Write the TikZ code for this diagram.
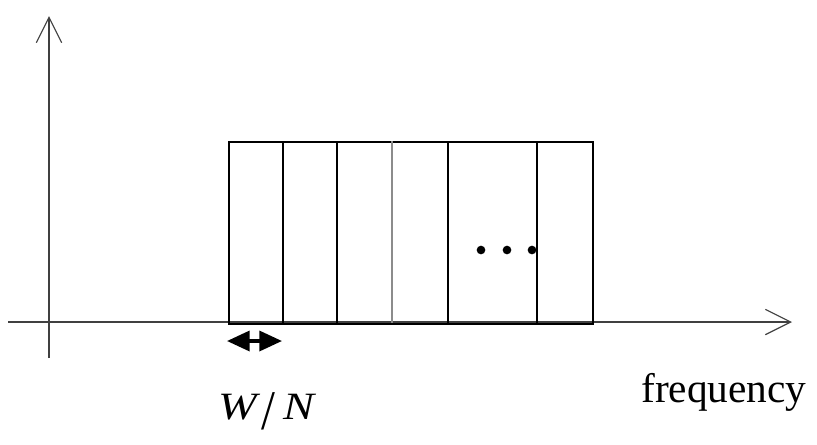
\documentclass[tikz,border=0pt]{standalone}
\usepackage{fontspec}
\setmainfont{Liberation Serif}
\usetikzlibrary{arrows.meta}
\begin{document}
\begin{tikzpicture}[x=0.75pt,y=-0.75pt,
  axis/.style={draw=black!75,line width=1.1pt,-{Straight Barb[length=19pt,width=19pt,line width=0.9pt]}},
  boxline/.style={draw=black,line width=1.3pt},
  divider/.style={draw=black,line width=1.3pt},
  graydivider/.style={draw=black!45,line width=1.5pt},
  dotmark/.style={circle,fill=black,inner sep=0pt,minimum size=6.5pt},
  label/.style={inner sep=0pt,font=\fontsize{31}{36}\selectfont}]
\useasboundingbox (0,0) rectangle (817,444);
% axes
\coordinate (yb) at (49,358);
\coordinate (yt) at (49,16);
\coordinate (xl) at (8,322);
\coordinate (xr) at (792,322);
\draw[axis] (yb) -- (yt);
\draw[axis] (xl) -- (xr);
% band
\node[boxline,minimum width=364*0.75pt,minimum height=182*0.75pt,inner sep=0pt,anchor=north west] (band) at (228,141) {};
\foreach \x/\s [count=\i] in {283/divider,337/divider,392/graydivider,448/divider,537/divider}{
  \coordinate (t\i) at (\x,141);
  \coordinate (b\i) at (\x,323);
  \draw[\s] (t\i) -- (b\i);
}
% dots
\node[dotmark] (d1) at (481,250) {};
\node[dotmark] (d2) at (507,250) {};
\node[dotmark] (d3) at (532,250) {};
% double arrow
\coordinate (al) at (227,341);
\coordinate (ar) at (282,341);
\draw[line width=2.6pt,{Triangle[length=17pt,width=15pt]}-{Triangle[length=17pt,width=15pt]}] (al) -- (ar);
% labels
\node[label,anchor=base west] (freq) at (641,402) {frequency};
\node[inner sep=0pt,anchor=base west,font=\fontsize{29}{33}\selectfont] (wn) at (218,419)
  {\scalebox{1.2}[1]{\itshape W\hspace{3pt}\raisebox{-8pt}{\upshape\scalebox{1.3}[1.75]{\fontsize{24}{28}\selectfont /}}\hspace{5pt}N}};
\end{tikzpicture}
\end{document}
